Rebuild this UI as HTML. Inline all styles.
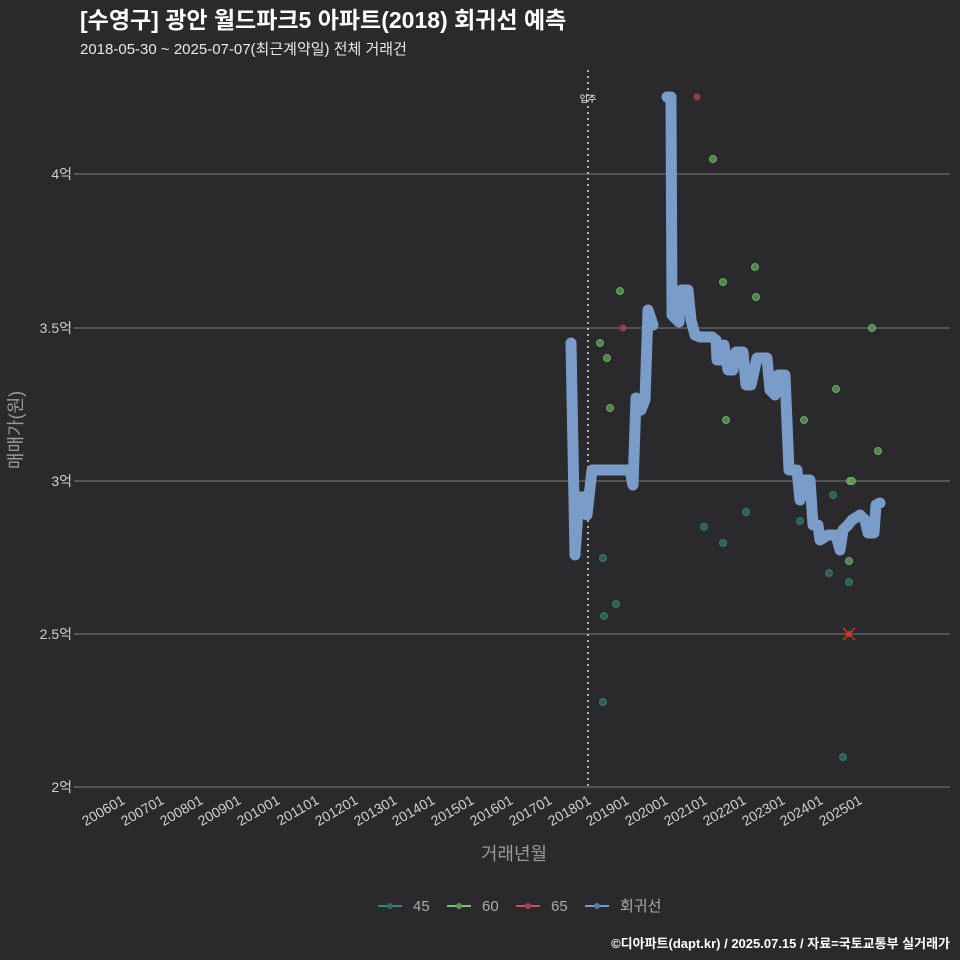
<!DOCTYPE html>
<html><head><meta charset="utf-8"><style>
html,body{margin:0;background:#2a2a2c;overflow:hidden;width:960px;height:960px;}
svg{display:block;}
svg text{font-family:"Liberation Sans","Noto Sans CJK KR",sans-serif;}
</style></head><body>
<svg width="960" height="960" xmlns="http://www.w3.org/2000/svg">
<rect width="960" height="960" fill="#2a2a2c"/>
<text x="80" y="28" font-size="23" font-weight="bold" fill="#ffffff">[수영구] 광안 월드파크5 아파트(2018) 회귀선 예측</text>
<text x="80" y="54" font-size="15" fill="#e8e8e8">2018-05-30 ~ 2025-07-07(최근계약일) 전체 거래건</text>
<g stroke="#6a6a6a" stroke-width="1.2">
<line x1="78" x2="950" y1="174" y2="174"/><line x1="78" x2="950" y1="328" y2="328"/>
<line x1="78" x2="950" y1="481" y2="481"/><line x1="78" x2="950" y1="634" y2="634"/>
<line x1="78" x2="950" y1="787" y2="787"/>
</g>
<g font-size="14" fill="#cfcfcf" text-anchor="end">
<text x="72" y="179">4억</text><text x="72" y="333">3.5억</text><text x="72" y="486">3억</text><text x="72" y="639">2.5억</text><text x="72" y="792">2억</text>
</g>
<g stroke="#888" stroke-width="1"><line x1="74" x2="78" y1="174" y2="174"/><line x1="74" x2="78" y1="328" y2="328"/><line x1="74" x2="78" y1="481" y2="481"/><line x1="74" x2="78" y1="634" y2="634"/><line x1="74" x2="78" y1="787" y2="787"/></g>
<g font-size="14" fill="#cfcfcf" text-anchor="end">
<text transform="translate(126,803) rotate(-30)">200601</text>
<text transform="translate(165,803) rotate(-30)">200701</text>
<text transform="translate(204,803) rotate(-30)">200801</text>
<text transform="translate(242,803) rotate(-30)">200901</text>
<text transform="translate(281,803) rotate(-30)">201001</text>
<text transform="translate(320,803) rotate(-30)">201101</text>
<text transform="translate(359,803) rotate(-30)">201201</text>
<text transform="translate(398,803) rotate(-30)">201301</text>
<text transform="translate(436,803) rotate(-30)">201401</text>
<text transform="translate(475,803) rotate(-30)">201501</text>
<text transform="translate(514,803) rotate(-30)">201601</text>
<text transform="translate(553,803) rotate(-30)">201701</text>
<text transform="translate(592,803) rotate(-30)">201801</text>
<text transform="translate(630,803) rotate(-30)">201901</text>
<text transform="translate(669,803) rotate(-30)">202001</text>
<text transform="translate(708,803) rotate(-30)">202101</text>
<text transform="translate(747,803) rotate(-30)">202201</text>
<text transform="translate(786,803) rotate(-30)">202301</text>
<text transform="translate(824,803) rotate(-30)">202401</text>
<text transform="translate(863,803) rotate(-30)">202501</text>
</g>
<text x="514" y="860" font-size="18" fill="#999" text-anchor="middle">거래년월</text>
<text transform="translate(22,430) rotate(-90)" font-size="18" fill="#999" text-anchor="middle">매매가(원)</text>
<line x1="588" x2="588" y1="70" y2="787" stroke="#dddddd" stroke-width="1.5" stroke-dasharray="2,4"/>
<text x="588" y="102" font-size="9" fill="#fff" text-anchor="middle">입주</text>
<g fill="#2f6e62" fill-opacity="0.8" stroke="#3d8a7a" stroke-width="0.8">
<circle cx="603" cy="558" r="3.5"/><circle cx="604" cy="616" r="3.5"/><circle cx="616" cy="604" r="3.5"/><circle cx="603" cy="702" r="3.5"/><circle cx="704" cy="527" r="3.5"/><circle cx="723" cy="543" r="3.5"/><circle cx="746" cy="512" r="3.5"/><circle cx="800" cy="521" r="3.5"/><circle cx="833" cy="495" r="3.5"/><circle cx="829" cy="573" r="3.5"/><circle cx="849" cy="582" r="3.5"/><circle cx="843" cy="757" r="3.5"/>
</g>
<g fill="#5c9a55" fill-opacity="0.8" stroke="#7bc070" stroke-width="0.8">
<circle cx="600" cy="343" r="3.5"/><circle cx="607" cy="358" r="3.5"/><circle cx="610" cy="408" r="3.5"/><circle cx="620" cy="291" r="3.5"/><circle cx="713" cy="159" r="3.5"/><circle cx="723" cy="282" r="3.5"/><circle cx="726" cy="420" r="3.5"/><circle cx="755" cy="267" r="3.5"/><circle cx="756" cy="297" r="3.5"/><circle cx="804" cy="420" r="3.5"/><circle cx="836" cy="389" r="3.5"/><circle cx="850" cy="481" r="3.5"/><circle cx="852" cy="481" r="3.5"/><circle cx="849" cy="561" r="3.5"/><circle cx="872" cy="328" r="3.5"/><circle cx="878" cy="451" r="3.5"/>
</g>
<g fill="#a3434f" fill-opacity="0.85"><circle cx="623" cy="328" r="3.5"/><circle cx="697" cy="97" r="3.5"/></g>
<g fill="none" stroke="#7a9cc8" stroke-width="11" stroke-linejoin="round" stroke-linecap="round">
<polyline points="571,343 575,555 579,497 584,497 587,515 592,470 630,470 633,485 636,398 641,410 645,400 648,310 653,325"/>
<polyline points="667,97 671,97 672,315 675,318 679,322 681,290 688,290 691,320 695,335 700,337 712,337 716,340 717,360 721,360 724,345 728,370 733,370 736,352 743,352 746,385 751,385 757,358 767,358 770,390 775,395 778,375 785,375 789,470 797,470 800,500 805,480 810,480 813,525 818,525 820,540 828,535 836,535 840,550 843,530 848,525 852,520 860,515 865,520 868,533 874,533 876,505 880,503"/>
</g>
<g stroke="#e02a1e" stroke-width="1.5"><line x1="843" y1="628" x2="855" y2="640"/><line x1="855" y1="628" x2="843" y2="640"/></g>
<circle cx="849" cy="634" r="3" fill="#c83a2c"/>
<g font-size="15" fill="#aaa">
<line x1="378" x2="402" y1="906" y2="906" stroke="#2f8a84" stroke-width="2"/><circle cx="390" cy="906" r="3" fill="#2f6e62"/><text x="413" y="911">45</text>
<line x1="447" x2="471" y1="906" y2="906" stroke="#7bc070" stroke-width="2"/><circle cx="459" cy="906" r="3" fill="#5c9a55"/><text x="482" y="911">60</text>
<line x1="516" x2="540" y1="906" y2="906" stroke="#d0505a" stroke-width="2"/><circle cx="528" cy="906" r="3" fill="#a3434f"/><text x="551" y="911">65</text>
<line x1="585" x2="609" y1="906" y2="906" stroke="#7a9cc8" stroke-width="2"/><circle cx="597" cy="906" r="3" fill="#5a7aa8"/><text x="620" y="911">회귀선</text>
</g>
<text x="950" y="948" font-size="13" font-weight="bold" fill="#ffffff" text-anchor="end">©디아파트(dapt.kr) / 2025.07.15 / 자료=국토교통부 실거래가</text>
</svg>
</body></html>
